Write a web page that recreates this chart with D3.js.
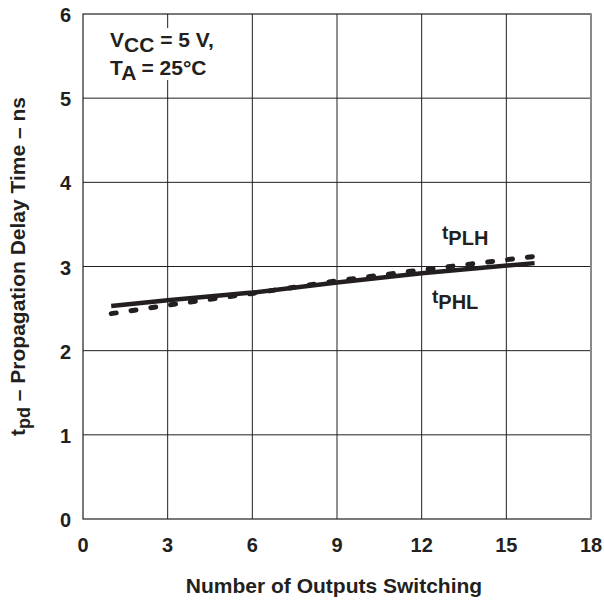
<!DOCTYPE html>
<html>
<head>
<meta charset="utf-8">
<script src="https://cdn.jsdelivr.net/npm/d3@7"></script>
<style>
  body { margin: 0; background: #fff; }
  text { font-family: "Liberation Sans", Arial, sans-serif; font-weight: bold; fill: #231f20; }
</style>
</head>
<body>
<svg id="chart"></svg>
<script>
// values
const xTicks = [0, 3, 6, 9, 12, 15, 18];
const yTicks = [0, 1, 2, 3, 4, 5, 6];
const outputs = [1, 3, 6, 9, 12, 16];
const tPHL = [2.53, 2.60, 2.69, 2.81, 2.92, 3.04];
const tPLH = [2.44, 2.54, 2.68, 2.83, 2.96, 3.12];

const layout = {width: 604, height: 604, left: 83, right: 591, top: 14, bottom: 519};

const svg = d3.select("#chart")
  .attr("width", layout.width)
  .attr("height", layout.height);

const x = d3.scaleLinear().domain([0, 18]).range([layout.left, layout.right]);
const y = d3.scaleLinear().domain([0, 6]).range([layout.bottom, layout.top]);

// grid
svg.append("g").selectAll("line")
  .data(xTicks.slice(1, -1))
  .join("line")
  .attr("x1", d => x(d)).attr("x2", d => x(d))
  .attr("y1", y(0)).attr("y2", y(6))
  .attr("stroke", "#231f20").attr("stroke-width", 1);

svg.append("g").selectAll("line")
  .data(yTicks.slice(1, -1))
  .join("line")
  .attr("x1", x(0)).attr("x2", x(18))
  .attr("y1", d => y(d)).attr("y2", d => y(d))
  .attr("stroke", "#231f20").attr("stroke-width", 1);

// frame
svg.append("rect")
  .attr("x", x(0)).attr("y", y(6))
  .attr("width", x(18) - x(0)).attr("height", y(0) - y(6))
  .attr("fill", "none").attr("stroke", "#231f20").attr("stroke-width", 1.2);
svg.append("line")
  .attr("x1", x(18)).attr("x2", x(18)).attr("y1", y(6)).attr("y2", y(0))
  .attr("stroke", "#8a8a8a").attr("stroke-width", 2);

// tick labels
svg.append("g").selectAll("text")
  .data(xTicks)
  .join("text")
  .attr("x", d => x(d)).attr("y", y(0) + 33)
  .attr("text-anchor", "middle").attr("font-size", 20)
  .text(d => d);

svg.append("g").selectAll("text")
  .data(yTicks)
  .join("text")
  .attr("x", x(0) - 12).attr("y", d => y(d) + 8)
  .attr("text-anchor", "end").attr("font-size", 20)
  .text(d => d);

// axis titles
svg.append("text")
  .attr("x", 334).attr("y", 593)
  .attr("text-anchor", "middle").attr("font-size", 21)
  .text("Number of Outputs Switching");

const yTitle = svg.append("text")
  .attr("transform", `translate(25, ${(y(0) + y(6)) / 2}) rotate(-90)`)
  .attr("text-anchor", "middle").attr("font-size", 21);
yTitle.append("tspan").text("t");
yTitle.append("tspan").attr("dy", 5).attr("font-size", 18).text("pd");
yTitle.append("tspan").attr("dy", -5).text(" \u2013 Propagation Delay Time \u2013 ns");

// condition box
svg.append("rect")
  .attr("x", 106).attr("y", 28).attr("width", 112).attr("height", 52)
  .attr("fill", "#fff");
const c1 = svg.append("text").attr("x", 110).attr("y", 47).attr("font-size", 21);
c1.append("tspan").text("V");
c1.append("tspan").attr("dy", 5).text("CC");
c1.append("tspan").attr("dy", -5).text(" = 5 V,");
const c2 = svg.append("text").attr("x", 110).attr("y", 75).attr("font-size", 21);
c2.append("tspan").text("T");
c2.append("tspan").attr("dy", 5).text("A");
c2.append("tspan").attr("dy", -5).text(" = 25\u00B0C");

// curves
const line = d3.line().x(d => x(d[0])).y(d => y(d[1]));

svg.append("path")
  .datum(d3.zip(outputs, tPLH))
  .attr("d", line)
  .attr("fill", "none").attr("stroke", "#231f20")
  .attr("stroke-width", 5).attr("stroke-linecap", "round")
  .attr("stroke-dasharray", "5,15");

svg.append("path")
  .datum(d3.zip(outputs, tPHL))
  .attr("d", line)
  .attr("fill", "none").attr("stroke", "#231f20")
  .attr("stroke-width", 4.5);

// curve labels
const l1 = svg.append("text").attr("x", 442).attr("y", 245).attr("font-size", 20);
l1.append("tspan").attr("dy", -6).attr("font-size", 19).text("t");
l1.append("tspan").attr("dy", 6).text("PLH");
const l2 = svg.append("text").attr("x", 432).attr("y", 309).attr("font-size", 20);
l2.append("tspan").attr("dy", -6).attr("font-size", 19).text("t");
l2.append("tspan").attr("dy", 6).text("PHL");
</script>
</body>
</html>
